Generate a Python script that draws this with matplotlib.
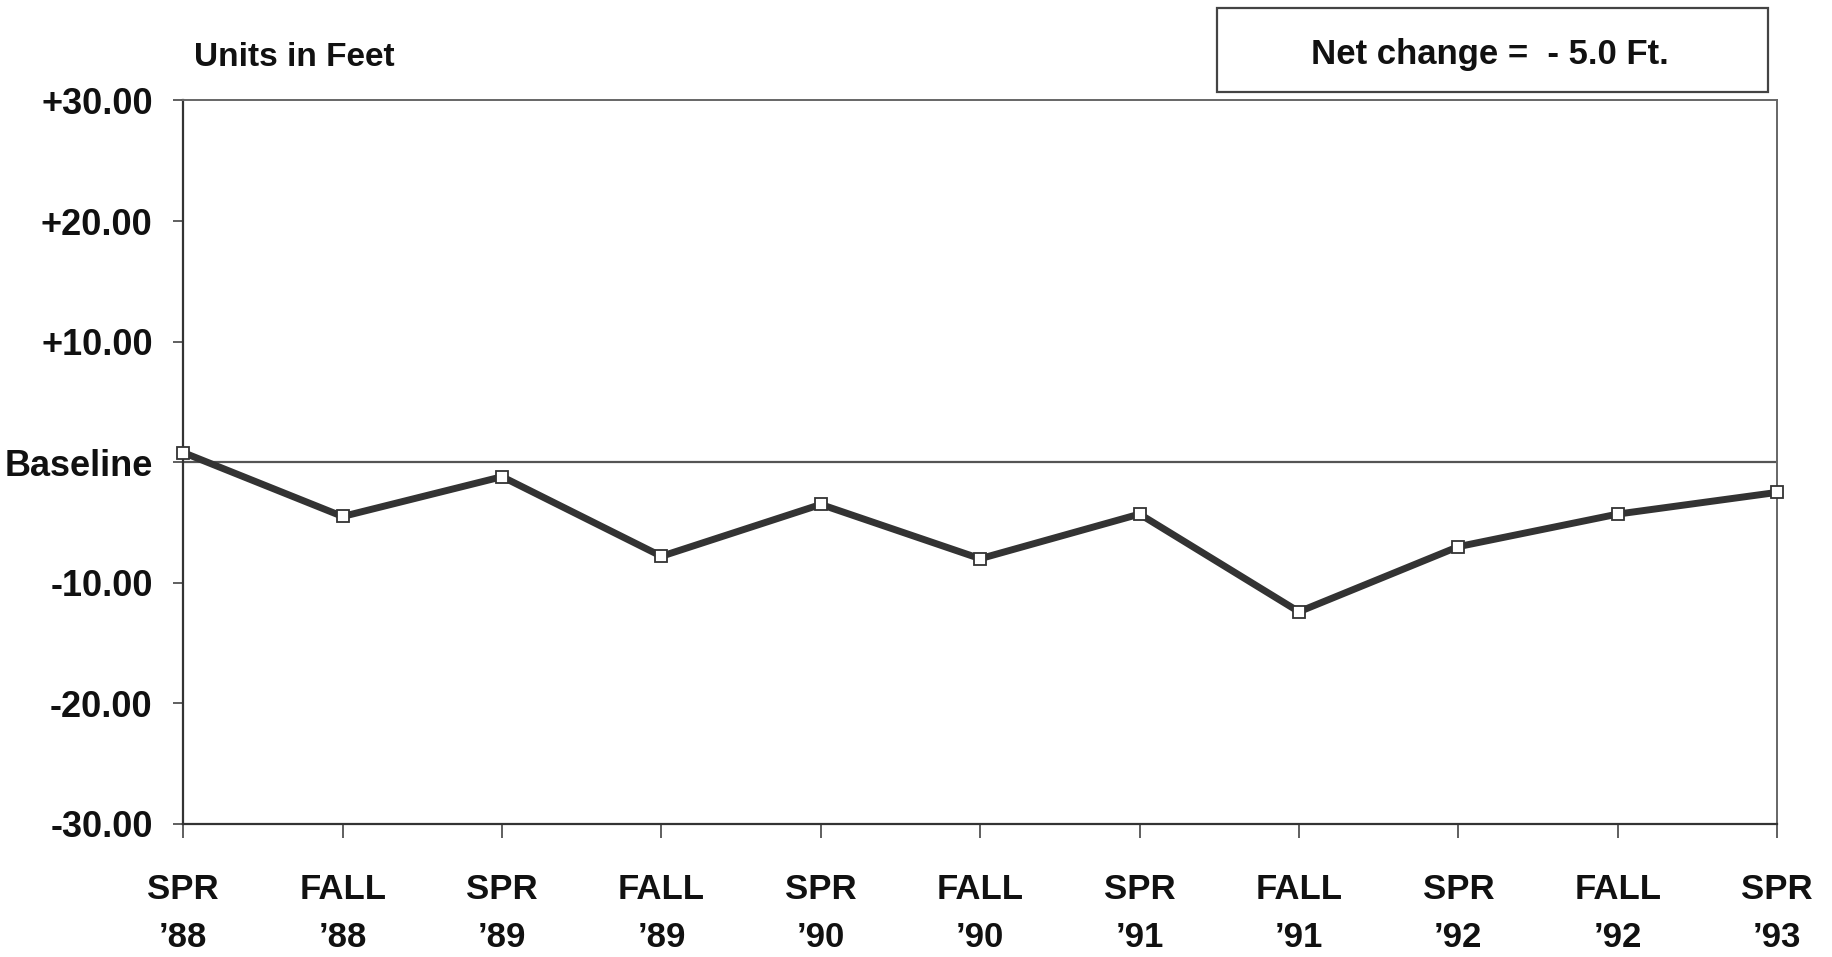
import matplotlib.pyplot as plt
import numpy as np

plt.rcParams['font.family'] = ['Liberation Sans', 'DejaVu Sans']

# survey dates and change from baseline (feet)
seasons = ["SPR", "FALL", "SPR", "FALL", "SPR", "FALL", "SPR", "FALL", "SPR", "FALL", "SPR"]
years = ["\u201988", "\u201988", "\u201989", "\u201989", "\u201990", "\u201990",
         "\u201991", "\u201991", "\u201992", "\u201992", "\u201993"]
change = [0.8, -4.5, -1.2, -7.8, -3.5, -8.0, -4.3, -12.4, -7.0, -4.3, -2.5]

y_ticks = [30, 20, 10, 0, -10, -20, -30]
y_labels = ["+30.00", "+20.00", "+10.00", "Baseline", "-10.00", "-20.00", "-30.00"]

fig = plt.figure(figsize=(18.33, 9.57), dpi=100)
ax = fig.add_axes([0.100, 0.139, 0.8695, 0.756])

x = np.arange(len(change))
ax.axhline(0, color='#555555', lw=1.6, zorder=1)
ax.plot(x, change, color='#333333', lw=5, marker='s', markersize=8.5,
        markerfacecolor='white', markeredgecolor='#333333', markeredgewidth=1.3,
        zorder=3, clip_on=False)

ax.set_xlim(0, len(change) - 1)
ax.set_ylim(-30, 30)
ax.set_yticks(y_ticks)
ax.set_yticklabels(y_labels, fontsize=26, fontweight='bold', color='#111111')
ax.set_xticks(x)
ax.set_xticklabels([s + "\n" + yr for s, yr in zip(seasons, years)],
                   fontsize=25, fontweight='bold', color='#111111', linespacing=1.6)
ax.tick_params(axis='y', length=7, width=1.2, color='#444444', pad=15)
ax.tick_params(axis='x', length=10, width=1.2, color='#444444', pad=25)

for side in ['left', 'bottom']:
    ax.spines[side].set_color('#333333')
    ax.spines[side].set_linewidth(1.6)
for side in ['top', 'right']:
    ax.spines[side].set_color('#666666')
    ax.spines[side].set_linewidth(1.4)

fig.text(0.106, 0.940, "Units in Feet", fontsize=24, fontweight='bold',
         ha='left', va='center', color='#111111')

fig.text(0.813, 0.943, "Net change =  - 5.0 Ft.", fontsize=25, fontweight='bold',
         ha='center', va='center', color='#111111')
box = plt.Rectangle((0.664, 0.904), 0.3005, 0.088, transform=fig.transFigure,
                    fill=False, edgecolor='#444444', lw=1.6)
fig.add_artist(box)

plt.savefig("out.png", dpi=100)
